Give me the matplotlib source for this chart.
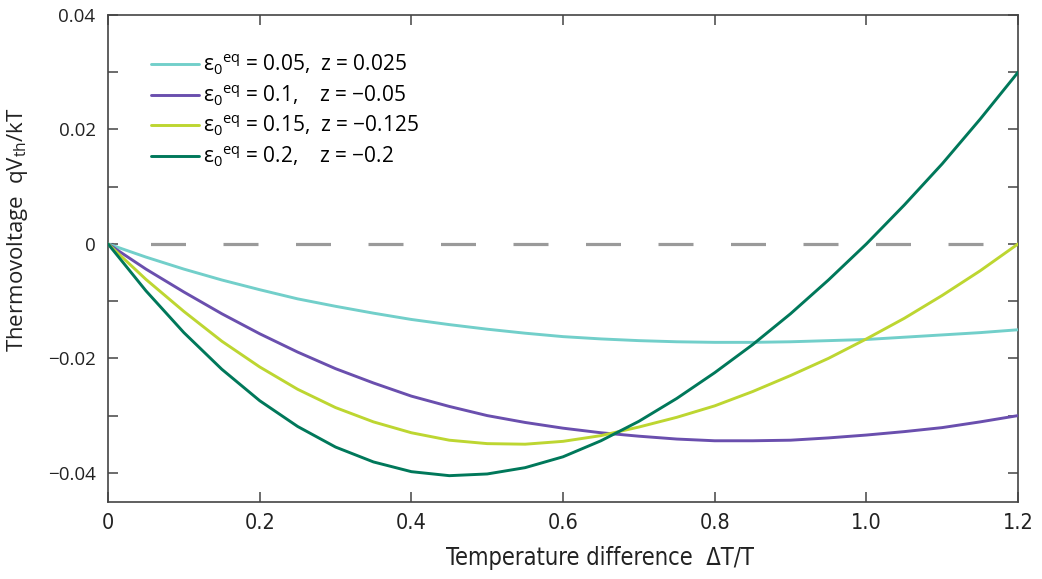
import matplotlib
matplotlib.use("Agg")
import matplotlib.pyplot as plt
from matplotlib.ticker import MultipleLocator, FixedLocator

plt.rcParams['font.family'] = ['Open Sans', 'DejaVu Sans']
plt.rcParams['mathtext.fontset'] = 'custom'
plt.rcParams['mathtext.rm'] = 'Open Sans'
plt.rcParams['mathtext.it'] = 'Open Sans'
plt.rcParams['lines.scale_dashes'] = False

# temperature difference dT/T
dT = [0.0, 0.05, 0.1, 0.15, 0.2, 0.25, 0.3, 0.35, 0.4, 0.45, 0.5, 0.55, 0.6,
      0.65, 0.7, 0.75, 0.8, 0.85, 0.9, 0.95, 1.0, 1.05, 1.1, 1.15, 1.2]

# thermovoltage qV_th/kT
v_005 = [0, -0.0023, -0.0044, -0.0063, -0.0080, -0.0096, -0.0109, -0.0121, -0.0132,
         -0.0141, -0.0149, -0.0156, -0.0162, -0.0166, -0.0169, -0.0171, -0.0172,
         -0.0172, -0.0171, -0.0169, -0.0167, -0.0163, -0.0159, -0.0155, -0.0150]
v_010 = [0, -0.0044, -0.0084, -0.0122, -0.0157, -0.0189, -0.0218, -0.0243, -0.0266,
         -0.0284, -0.0300, -0.0312, -0.0322, -0.0330, -0.0336, -0.0341, -0.0344,
         -0.0344, -0.0343, -0.0339, -0.0334, -0.0328, -0.0321, -0.0311, -0.0300]
v_015 = [0, -0.0062, -0.0118, -0.0170, -0.0215, -0.0254, -0.0286, -0.0311, -0.0330,
         -0.0343, -0.0349, -0.0350, -0.0345, -0.0335, -0.0320, -0.0303, -0.0283,
         -0.0258, -0.0230, -0.0200, -0.0166, -0.0130, -0.0090, -0.0047, 0.0]
v_020 = [0, -0.0082, -0.0155, -0.0219, -0.0274, -0.0319, -0.0355, -0.0381, -0.0398,
         -0.0405, -0.0402, -0.0391, -0.0372, -0.0344, -0.0310, -0.0270, -0.0225,
         -0.0176, -0.0122, -0.0063, 0.0, 0.0068, 0.0140, 0.0218, 0.0300]

labels = [r"ε$_0$$^{\mathrm{eq}}$ = 0.05,  z = 0.025",
          r"ε$_0$$^{\mathrm{eq}}$ = 0.1,    z = −0.05",
          r"ε$_0$$^{\mathrm{eq}}$ = 0.15,  z = −0.125",
          r"ε$_0$$^{\mathrm{eq}}$ = 0.2,    z = −0.2"]
colors = ['#72CFCA', '#6A4FAE', '#BDD631', '#00785A']
series = [v_005, v_010, v_015, v_020]

x_ticks = [0, 0.2, 0.4, 0.6, 0.8, 1.0, 1.2]
x_ticklabels = ['0', '0.2', '0.4', '0.6', '0.8', '1.0', '1.2']

fig = plt.figure(figsize=(10.42, 5.79), dpi=100)
ax = fig.add_axes([0.1037, 0.133, 0.8733, 0.841])

ax.axhline(0, color='#9a9a9a', lw=2.3, linestyle=(21.6, (25.2, 27.0)), zorder=1)

for v, c, lab in zip(series, colors, labels):
    ax.plot(dT, v, color=c, lw=2.1, label=lab, zorder=3,
            solid_joinstyle='round', solid_capstyle='round')

ax.set_xlim(0, 1.2)
ax.set_ylim(-0.0451, 0.04)

ax.xaxis.set_major_locator(FixedLocator(x_ticks))
ax.set_xticklabels(x_ticklabels, family='DejaVu Sans', stretch='condensed',
                   fontsize=15.5)
ax.yaxis.set_major_locator(MultipleLocator(0.02))
ax.yaxis.set_minor_locator(MultipleLocator(0.01))
ax.set_yticklabels([f"{t:g}".replace('-', '−') if abs(t) > 1e-9 else '0'
                    for t in ax.get_yticks()], fontsize=13.5)

ax.tick_params(axis='both', which='both', direction='in', top=True, right=True,
               color='#444444', width=1.1, colors='#222222')
ax.tick_params(axis='both', which='major', length=7)
ax.tick_params(axis='y', which='minor', length=7)
ax.tick_params(axis='x', pad=8)
ax.tick_params(axis='y', pad=9)
for s in ax.spines.values():
    s.set_color('#444444')
    s.set_linewidth(1.2)

ax.set_xlabel("Temperature difference  ΔT/T", family='DejaVu Sans',
              stretch='condensed', fontsize=17, color='#222222')
ax.xaxis.set_label_coords(0.54, -0.09)
ax.set_ylabel(r"Thermovoltage  qV$_{\mathrm{th}}$/kT", fontsize=16,
              color='#222222')
ax.yaxis.set_label_coords(-0.086, 0.56)

leg = ax.legend(loc='upper left', bbox_to_anchor=(0.038, 0.94), frameon=False,
                fontsize=15, handlelength=2.3, handletextpad=0.2,
                labelspacing=0.3, borderaxespad=0)

fig.savefig("out.png", dpi=100)
